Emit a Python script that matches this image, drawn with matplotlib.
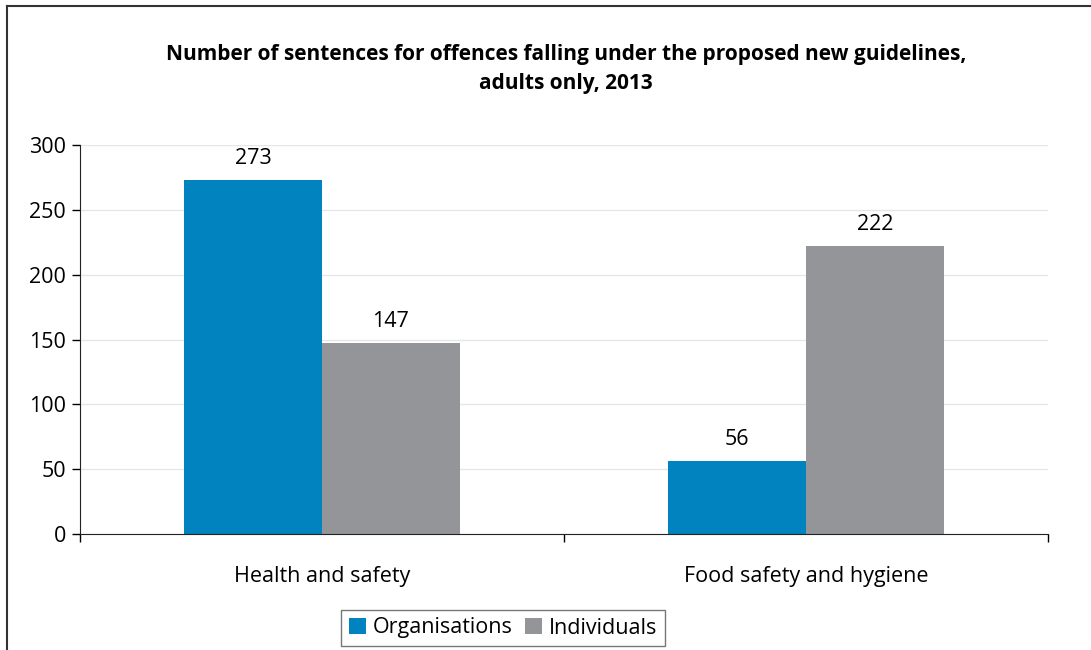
import matplotlib.pyplot as plt
from matplotlib.lines import Line2D
import numpy as np

plt.rcParams['font.family'] = ['Open Sans', 'DejaVu Sans']

categories = ['Health and safety', 'Food safety and hygiene']
organisations = [273, 56]
individuals = [147, 222]
yticks = [0, 50, 100, 150, 200, 250, 300]

blue = '#0083be'
grey = '#939598'
fs = 15.5

fig = plt.figure(figsize=(10.91, 6.5), dpi=100)
ax = fig.add_axes([80 / 1091, 1 - 534 / 650, 968 / 1091, 389 / 650])

x = np.arange(len(categories))
w = 0.285
b1 = ax.bar(x - w / 2, organisations, w, color=blue, label='Organisations', zorder=2)
b2 = ax.bar(x + w / 2, individuals, w, color=grey, label='Individuals', zorder=2)

for bars in (b1, b2):
    for r in bars:
        ax.annotate(str(int(r.get_height())), (r.get_x() + r.get_width() / 2, r.get_height()),
                    xytext=(0, 8), textcoords='offset points', ha='center', va='bottom',
                    fontsize=fs)

ax.set_xlim(-0.5, len(categories) - 0.5)
ax.set_ylim(0, 300)
ax.set_yticks(yticks)
ax.tick_params(axis='y', labelsize=fs, length=6, width=1, direction='out', pad=4)
ax.yaxis.grid(True, color='#e6e6e6', lw=1, zorder=0)
ax.set_axisbelow(True)

# category labels between boundary ticks
ax.set_xticks([-0.5, 0.5, 1.5])
ax.set_xticklabels([])
ax.tick_params(axis='x', length=6, width=1, direction='out')
ax.set_xticks(x, minor=True)
ax.set_xticklabels(categories, minor=True, fontsize=fs)
ax.tick_params(axis='x', which='minor', length=0, pad=23)

for s in ['top', 'right']:
    ax.spines[s].set_visible(False)
ax.spines['left'].set_color('#222222')
ax.spines['bottom'].set_color('#222222')

fig.text(566 / 1091, 1 - 69 / 650,
         'Number of sentences for offences falling under the proposed new guidelines,\nadults only, 2013',
         ha='center', va='center', fontsize=15, fontweight='bold', linespacing=1.55)

leg = fig.legend(loc='center', bbox_to_anchor=(503 / 1091, 1 - 628 / 650), ncol=2,
                 fontsize=fs, frameon=True, fancybox=False, edgecolor='#555555',
                 handlelength=0.8, handleheight=0.8, handletextpad=0.3, columnspacing=0.6,
                 borderpad=0.35)
leg.get_frame().set_linewidth(1)

# border of the surrounding box (top and left only)
fig.add_artist(Line2D([7 / 1091, 7 / 1091], [0, 1 - 6 / 650], transform=fig.transFigure, color='#333333', lw=1.5))
fig.add_artist(Line2D([7 / 1091, 1], [1 - 6 / 650, 1 - 6 / 650], transform=fig.transFigure, color='#333333', lw=1.5))

fig.savefig('out.png', dpi=100)
